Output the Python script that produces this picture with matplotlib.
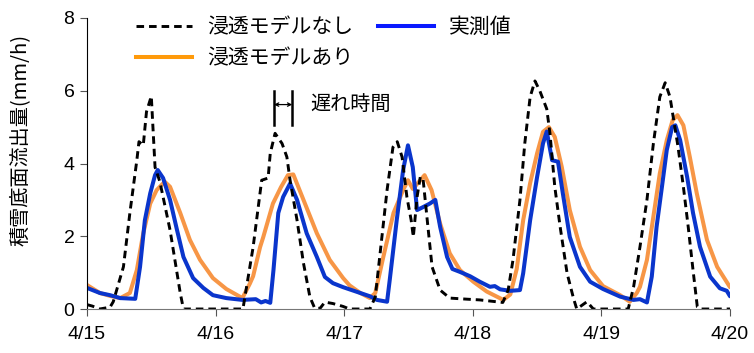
import numpy as np
import matplotlib
matplotlib.use("Agg")
import matplotlib.pyplot as plt
from matplotlib.lines import Line2D

plt.rcParams['font.family'] = ['Liberation Sans', 'Noto Sans CJK JP', 'DejaVu Sans']

# hours since 4/15 00:00, values in mm/h
no_infil_h = [0, 1, 2.4, 4.3, 4.9, 6.8, 8, 9.3, 9.7, 10.5, 11.1, 12, 12.7, 13.6, 15.5, 17.4, 18,
              29.1, 31, 32.6, 33.8, 34.2, 35.1, 36.4, 37.3, 37.9, 39.2, 40.4, 41.6, 42.5, 43.5, 44.4,
              45.9, 47.8, 49, 52.8, 53.8, 54.7, 56, 57.1, 57.9, 58.8, 59.7, 60.5, 60.9, 61.6, 62.2,
              62.7, 63.5, 64.4, 65.9, 67.7, 70.9, 73.3, 77.6, 78.6, 79.5, 80.8, 81.7, 82.7, 83.6,
              84.5, 85.8, 86.4, 87.3, 88.3, 89.6, 90.8, 91.4, 93.3, 94.5, 101, 102, 103.2, 104.5,
              105.7, 106.9, 107.9, 108.8, 109.4, 110.3, 111.3, 112.2, 113.1, 113.9, 114.5, 120]
no_infil_v = [0.12, 0.08, 0.0, 0.05, 0.2, 1.16, 2.64, 4.09, 4.6, 4.5, 5.42, 5.85, 3.9, 3.5, 2.17, 0.44, 0.0,
              0.0, 1.7, 3.54, 3.6, 4.28, 4.83, 4.55, 4.18, 3.54, 2.44, 1.26, 0.33, 0.02, 0.02, 0.19,
              0.15, 0.07, 0.0, 0.0, 0.33, 1.53, 3.27, 4.45, 4.6, 4.18, 3.08, 2.44, 1.98, 3.08, 3.63,
              3.6, 2.44, 1.16, 0.52, 0.3, 0.27, 0.25, 0.18, 0.52, 1.35, 3.0, 4.55, 5.83, 6.27,
              6.0, 5.5, 4.83, 3.36, 2.26, 0.98, 0.29, 0.0, 0.2, 0.0, 0.0, 0.6, 1.71, 3.0,
              4.55, 5.83, 6.22, 5.83, 5.28, 4.46, 3.36, 2.26, 1.07, 0.06, 0.0, 0.0]

with_infil_h = [0, 2.4, 4.3, 6.2, 8, 9.3, 10.5, 11.8, 13, 14.5, 15.5, 17.4, 19.2, 21.1, 23.5, 26, 29,
                30.4, 31, 32.3, 32.9, 34.7, 36.2, 37.5, 38.5, 40.4, 42.9, 45.3, 47.8, 49, 51, 52.8,
                53.8, 55.3, 57.2, 59, 59.9, 60.8, 62.2, 63, 64.3, 65.9, 67.7, 69.6, 72.1, 74.6, 77.7,
                79, 80.2, 81.4, 82.7, 84, 85.1, 86.2, 87.3, 88.6, 90.1, 92, 93.9, 96.3, 99.5, 101.3,
                102.6, 103.2, 104.5, 105.7, 106.9, 108.2, 109.3, 110.2, 111.3, 112.5, 113.8, 115.7,
                117.6, 120]
with_infil_v = [0.66, 0.44, 0.36, 0.3, 0.44, 1.07, 2.08, 2.9, 3.27, 3.5, 3.36, 2.64, 1.9, 1.35, 0.85, 0.55, 0.3,
                0.7, 0.9, 1.7, 1.98, 2.9, 3.35, 3.68, 3.7, 3.0, 2.08, 1.35, 0.85, 0.65, 0.44, 0.3,
                0.44, 1.43, 2.64, 3.27, 3.54, 3.3, 3.54, 3.68, 3.27, 2.35, 1.53, 1.07, 0.75, 0.48, 0.25,
                0.4, 1.1, 2.44, 3.46, 4.28, 4.87, 5.0, 4.73, 3.91, 2.72, 1.71, 1.07, 0.63, 0.38, 0.2,
                0.44, 0.61, 1.35, 2.54, 3.73, 4.64, 5.19, 5.33, 5.05, 4.18, 3.18, 1.9,
                1.16, 0.6]

observed_h = [0, 2.4, 4.3, 6.2, 9, 9.9, 10.8, 11.8, 12.7, 13.2, 14.2, 15.5, 16.8, 18, 19.8, 21.7, 23.5,
              26, 29, 31.5, 32.5, 33.3, 34.2, 34.8, 35.7, 36.6, 37.9, 39.2, 41, 42.9, 44.4, 45.9,
              47.8, 51, 52.8, 54.1, 56, 56.5, 57.8, 59, 59.9, 60.8, 61.6, 62.7, 64, 65, 65.9, 67.2,
              68.2, 69.6, 71.5, 73.3, 75.2, 76.1, 77.1, 79, 80.8, 81.4, 82.7, 84, 85.1, 85.8, 86.8,
              87.9, 88.8, 90.1, 92, 93.9, 96.3, 99.5, 102, 103.2, 104.5, 105.4, 106.3, 107.3, 108.2,
              109.2, 109.8, 110.7, 112, 113.1, 114.4, 116.3, 118.1, 119.4, 120]
observed_v = [0.58, 0.44, 0.38, 0.3, 0.28, 1.16, 2.44, 3.18, 3.68, 3.82, 3.6, 3.0, 2.17, 1.43, 0.85, 0.58, 0.38,
              0.3, 0.25, 0.27, 0.18, 0.22, 0.17, 1.07, 2.64, 3.08, 3.45, 3.0, 2.08, 1.43, 0.88, 0.71,
              0.6, 0.44, 0.35, 0.25, 0.2, 0.8, 2.44, 3.82, 4.5, 3.9, 2.72, 2.8, 2.9, 3.0, 2.26, 1.43,
              1.1, 1.02, 0.9, 0.75, 0.61, 0.63, 0.54, 0.5, 0.52, 0.98, 2.44, 3.63, 4.55, 4.88, 4.09,
              4.05, 3.18, 1.98, 1.16, 0.75, 0.55, 0.34, 0.25, 0.27, 0.18, 0.89, 2.26, 3.36, 4.37,
              5.0, 5.05, 4.64, 3.63, 2.64, 1.71, 0.89, 0.57, 0.5, 0.35]

day_labels = ['4/15', '4/16', '4/17', '4/18', '4/19', '4/20']
y_ticks = [0, 2, 4, 6, 8]

cjk = ['Noto Sans CJK JP', 'DejaVu Sans']
dash = (0, (2.6, 1.7))

fig = plt.figure(figsize=(7.54, 3.53), dpi=100)
ax = fig.add_axes([87 / 754, 44 / 353, 643 / 754, 291 / 353])

ax.plot(with_infil_h, with_infil_v, color='#f79646', lw=2.9,
        solid_joinstyle='round', solid_capstyle='round')
ax.plot(observed_h, observed_v, color='#0a35cc', lw=2.9,
        solid_joinstyle='round', solid_capstyle='round')
ax.plot(no_infil_h, no_infil_v, color='black', lw=2.1, ls=dash)

ax.set_xlim(0, 120)
ax.set_ylim(0, 8)
ax.set_xticks(np.arange(len(day_labels)) * 24)
ax.set_xticklabels(day_labels, fontsize=14)
ax.set_yticks(y_ticks)
ax.set_yticklabels([str(t) for t in y_ticks], fontsize=14)
ax.tick_params(direction='out', length=5, width=0.8, color='#555555', pad=4)
ax.tick_params(axis='x', pad=7)
for s in ['top', 'right']:
    ax.spines[s].set_visible(False)
ax.spines['left'].set_color('black')
ax.spines['bottom'].set_color('#777777')
ax.set_ylabel('積雪底面流出量(mm/h)', fontsize=14.5, family=cjk)
ax.yaxis.set_label_coords(-0.088, 0.58)

# lag-time marker
lag_y0, lag_y1 = 5.05, 6.0
ax.plot([34.9, 34.9], [lag_y0, lag_y1], color='black', lw=1.8)
ax.plot([38.3, 38.3], [lag_y0, lag_y1], color='black', lw=1.8)
ax.annotate('', xy=(38.3, 5.62), xytext=(34.9, 5.62),
            arrowprops=dict(arrowstyle='<->', lw=0.9, color='black',
                            shrinkA=0, shrinkB=0, mutation_scale=6))
ax.text(41.6, 5.62, '遅れ時間', fontsize=14.5, family=cjk, va='center', ha='left')

handles = [Line2D([], [], color='black', lw=2.1, ls=dash),
           Line2D([], [], color='#ff9a0a', lw=2.9),
           Line2D([], [], color='#0a1aff', lw=2.9)]
labels = ['浸透モデルなし', '浸透モデルあり', '実測値']
leg = fig.legend(handles, labels, loc='upper left', bbox_to_anchor=(136 / 754, 1 - 16 / 353),
                 ncol=2, frameon=False, prop={'family': cjk, 'size': 15},
                 handlelength=2.7, handletextpad=0.7, columnspacing=1.2,
                 labelspacing=0.45, borderpad=0, borderaxespad=0)

fig.savefig('out.png', dpi=100)
